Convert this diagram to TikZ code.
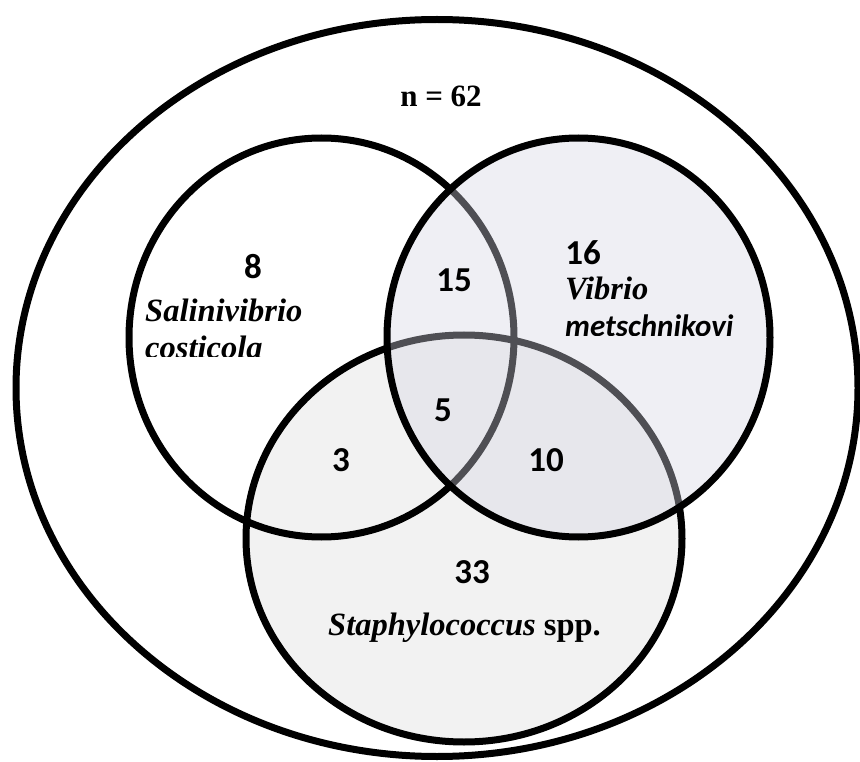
\documentclass[tikz,border=0pt]{standalone}
\usepackage{fontspec}
\setmainfont{Liberation Serif}
\newfontfamily\carlito{Carlito}
\definecolor{vfill}{RGB}{214,214,228}
\definecolor{sfill}{RGB}{242,242,242}
\begin{document}
\begin{tikzpicture}[x=1pt,y=-1pt,
  ring/.style={line width=7pt, draw=black},
  num/.style={font=\carlito\bfseries\fontsize{35}{40}\selectfont, inner sep=0pt},
  lab/.style={font=\bfseries\itshape\fontsize{32.5}{38}\selectfont, inner sep=0pt, anchor=base west},
  slab/.style={font=\carlito\bfseries\itshape\fontsize{31}{38}\selectfont, inner sep=0pt, anchor=base west},
]
\useasboundingbox (0,0) rectangle (860,762);
\fill[white] (0,0) rectangle (860,762);
% outer ellipse
\draw[ring, fill=white] (437,388) ellipse [x radius=421, y radius=368.5];
% Staphylococcus circle
\draw[ring, fill=sfill] (464,538.5) ellipse [x radius=218, y radius=203.5];
% Salinivibrio circle
\draw[ring] (321.5,337.5) ellipse [x radius=192.5, y radius=199.5];
% Vibrio circle (semi-transparent)
\draw[ring, fill=vfill, fill opacity=0.373] (578.5,337.5) ellipse [x radius=191.5, y radius=199.5];

\node[font=\bfseries\fontsize{31}{38}\selectfont, inner sep=0pt, anchor=base] (n) at (441,107) {n = 62};

\node[num] (c8) at (253,267) {8};
\node[num] (c15) at (454,280) {15};
\node[num] (c16) at (583,253) {16};
\node[num] (c5) at (443,410) {5};
\node[num] (c3) at (341,460) {3};
\node[num] (c10) at (546,460) {10};
\node[num] (c33) at (472,572) {33};

\node[lab] (sal) at (145,322) {Salinivibrio};
\begin{scope}
  \clip (100,300) rectangle (420,356.5);
  \node[lab] (cos) at (145,359) {costicola};
\end{scope}
\node[lab] (vib) at (565,300) {Vibrio};
\begin{scope}
  \clip (540,300) rectangle (780,335);
  \node[slab] (met) at (565,337) {metschnikovi};
\end{scope}
\node[inner sep=0pt, anchor=base west, font=\bfseries\fontsize{32.5}{38}\selectfont] (sta) at (328,635) {\itshape Staphylococcus\/\upshape{} spp.};
\end{tikzpicture}
\end{document}
